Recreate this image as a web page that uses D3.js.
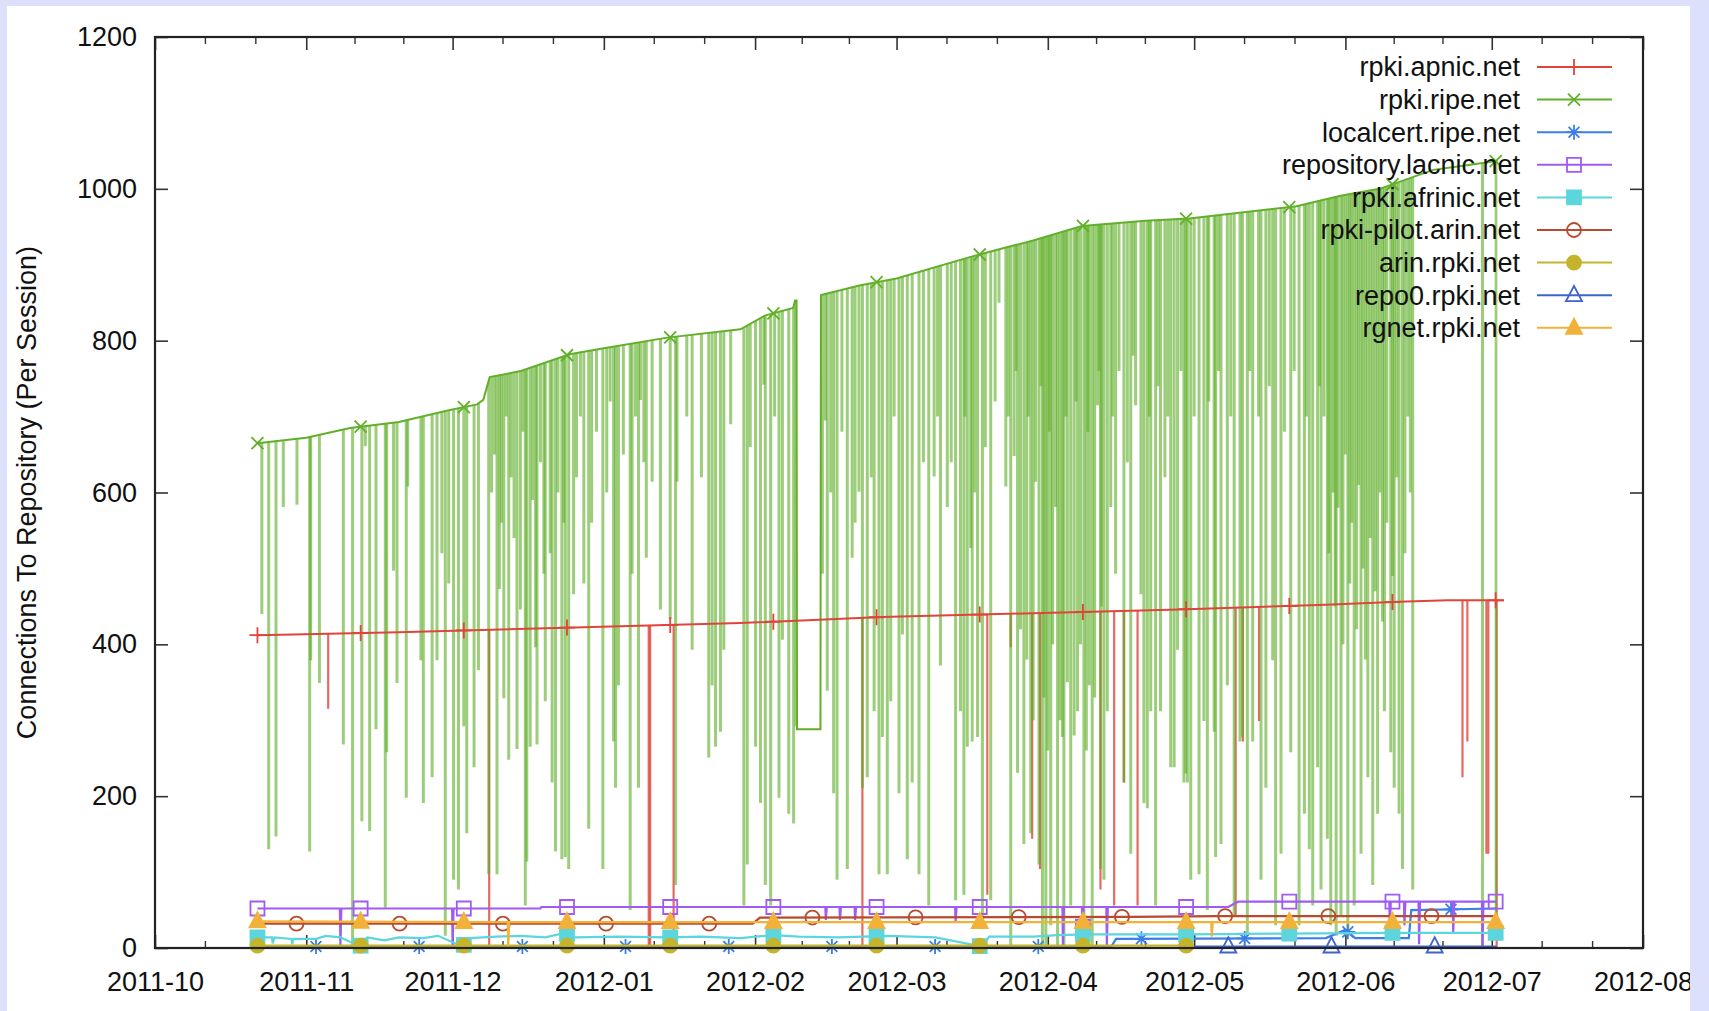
<!DOCTYPE html>
<html><head><meta charset="utf-8">
<script src="https://cdn.jsdelivr.net/npm/d3@7"></script>
<style>
html,body{margin:0;padding:0;background:#dde0fb;overflow:hidden;}
svg{display:block;}
text{font-family:"Liberation Sans",Arial,Helvetica,sans-serif;fill:#111;}
</style></head><body>
<svg id="chart" width="1709" height="1011"></svg>
<script>
// ---------- DATA (x = days since 2011-10-01, y = connections per session) ----------
const xTickLabels = ["2011-10","2011-11","2011-12","2012-01","2012-02","2012-03","2012-04","2012-05","2012-06","2012-07","2012-08"];
const yTickValues = [0,200,400,600,800,1000,1200];
const yLabel = "Connections To Repository (Per Session)";
const seriesNames = ["rpki.apnic.net","rpki.ripe.net","localcert.ripe.net","repository.lacnic.net","rpki.afrinic.net","rpki-pilot.arin.net","arin.rpki.net","repo0.rpki.net","rgnet.rpki.net"];

// rpki.apnic.net : main level and short drops
const apnicLine = [[21,412],[50,416],[84,422],[120,428],[149,436],[180,441],[210,446],[240,452],[255,456],[265,458],[276.5,458]];
const apnicDips = [[35.5,315],[68.5,0],[101.2,0],[101.5,0],[106.3,0],[145,0],[170.6,70],[175.4,396],[179.8,144],[181.4,104],[193.8,77],[196.6,56],[198.6,218],[201.4,56],[221.5,43],[223,272],[226.3,299],[268,225],[269,272],[272.9,124],[273.3,124],[275,0]];

// rpki.ripe.net : upper level and the many short drops
const ripeLine = [[21,665],[31,672],[40,685],[50,693],[60,708],[66,716],[67.3,722],[68.6,752],[75,760],[85,782],[92,790],[105,804],[120,815],[125,833],[130.8,843],[131.2,853],[131.5,853],[131.6,288],[136.4,288],[136.5,860],[144.6,873],[152,882],[167,910],[174,922],[180,932],[190,951],[203,958],[212,961],[234,977],[243,991],[251,1000],[262,1025],[270,1032],[275.2,1037]];
const ripeDips = [
 [21.9,440],[23.3,130],[24.8,147],[26.3,581],[29.1,584],[31.7,127],[31.9,379],[33.7,349],[38.6,268],[40.5,3],[42.4,167],[43.1,661],[44.0,154],[45.3,288],[47.2,53],[47.5,258],[48.9,497],[49.6,349],[51.5,198],[51.8,608],[54.5,379],[55.0,191],[56.8,225],[57.8,379],[58.8,520],[59.5,16],[60.2,480],[61.2,90],[62.2,77],[63.3,292],[63.9,151],[65.4,238],[66.3,366],[68.4,97],[70.1,97],[70.6,473],[71.5,329],[72.5,248],[74.2,262],[74.9,446],[75.9,56],[76.2,114],[76.9,265],[78.0,396],[78.3,268],[79.7,493],[80.0,325],[81.4,218],[82.1,127],[83.4,117],[84.1,120],[84.8,104],
 [69.0,600],[69.6,650],[71.0,560],[72.0,700],[73.0,620],[73.6,540],[75.4,680],[77.4,590],[79.0,640],[81.0,520],[82.6,600],[83.8,560],
 [85.8,466],[87.9,480],[88.9,157],[91.8,104],[94.0,272],[94.4,211],[95.0,346],[97.4,50],[97.8,493],[99.1,211],[99.5,722],[100.7,514],[101.9,614],[103.6,446],[105.6,433],[106.7,83],[107.0,614],[110.1,393],[113.5,251],[114.2,346],[114.9,265],[115.9,285],[116.6,393],[120.7,56],[121.4,110],[123.1,265],[124.1,191],[124.8,742],[125.1,83],[126.2,56],[127.9,198],[128.6,406],[129.9,177],[130.9,164],[131.4,292],[136.8,493],[137.4,695],[137.8,339],[139.1,204],[139.8,90],[141.9,104],[142.9,514],[144.3,601],[145.0,211],[146.0,225],[147.4,312],[148.4,97],
 [86.4,620],[87.2,700],[89.5,560],[90.5,680],[92.6,600],[93.3,720],[96.0,650],[98.5,700],[100.2,640],[109.0,700],[112.0,620],[118.0,690],[122.0,660],[127.0,700],
 [138.5,600],[140.8,680],[143.5,560],[146.8,620],[151.5,700],[157.5,640],
 [149.1,278],[150.1,97],[150.8,325],[152.5,204],[153.2,413],[154.2,117],[155.2,218],[156.6,97],[158.6,56],[159.7,621],[161.0,372],[162.4,581],[164.1,63],[165.1,312],[165.8,70],[166.5,265],[167.2,527],[167.5,272],[168.6,278],[169.6,30],[171.3,63],[173.0,850],[174.4,608],[175.4,3],[176.1,648],[176.8,231],[177.4,420],[178.1,137],[178.7,380],[179.5,151],[180.0,300],[180.5,614],[181.2,110],[181.9,3],[182.2,330],[182.6,3],[183.0,260],[183.6,30],[184.0,400],[184.6,581],[185.0,3],[185.5,300],[186.0,278],[186.3,3],[187.0,350],[187.7,56],[188.4,280],[189.1,312],[189.7,400],[190.4,3],[190.9,260],[191.5,346],[192.1,3],[192.6,330],[193.2,715],[193.8,104],[194.0,450],[194.5,90],[195.2,312],[195.9,581],[196.9,493],[198.6,218],[200.0,124],[201.0,715],[202.1,466],[202.7,191],[203.4,184],[204.1,312],[205.1,56],[206.1,312],[208.2,238],[208.9,238],[209.6,393],[210.9,218],[211.3,230],[211.6,218],
 [160.4,700],[163.2,640],[166.0,700],[168.0,600],[170.2,660],[172.2,720],[174.9,700],[176.5,760],[179.0,700],[181.6,740],[183.3,680],[186.7,700],[188.8,720],[191.2,680],[193.5,760],[196.3,700],[197.6,760],[199.3,640],[200.5,780],[203.8,700],[205.6,740],[207.0,620],[207.6,700],[210.3,760],
 [212.3,90],[214.0,97],[215.0,299],[215.7,50],[217.1,285],[217.4,120],[218.5,137],[219.8,346],[221.2,43],[222.4,272],[222.9,278],[223.9,16],[225.0,272],[226.7,90],[227.7,211],[229.1,379],[229.7,30],[230.8,124],[232.8,258],[234.5,30],[235.6,177],[236.6,130],[237.3,56],[238.3,238],[239.0,77],[240.3,144],[240.6,520],[241.0,30],[241.5,600],[241.9,450],[242.1,16],[242.5,580],[243.1,43],[243.5,400],[244.0,650],[244.5,16],[244.9,480],[245.3,560],[245.8,56],[246.3,420],[246.7,610],[247.2,124],[247.6,500],[248.1,380],[248.6,225],[249.1,540],[249.6,83],[250.1,470],[250.6,177],[251.1,600],[251.6,430],[252.0,312],[252.5,560],[253.3,258],[253.7,490],[254.0,211],[254.5,620],[255.0,177],[255.7,104],[256.2,520],[256.8,700],[257.3,600],[257.8,77],[272.1,3],[274.9,20],
 [213.0,700],[216.0,720],[218.0,760],[220.5,700],[224.4,760],[226.2,700],[228.4,740],[231.5,680],[233.5,760],[236.0,700],[238.7,740],[239.6,700]
];

const localcertData = [[21,2],[196,2],[197,12],[240,13],[244,24],[246,13],[257,13],[257.5,50],[275,52]];
const lacnicData = [[21,52],[37.9,52],[38,2],[38.2,52],[60.9,52],[61,2],[61.2,52],[79,52],[79.2,54],[137.4,54],[137.5,37],[137.7,54],[140.3,54],[140.4,37],[140.6,54],[143.4,54],[143.5,37],[143.7,54],[164,54],[164.1,35],[164.3,54],[186,54],[186.1,2],[186.3,54],[190,54],[190.1,2],[190.3,54],[195,54],[195.1,2],[195.3,54],[220,54],[222,61],[253,61],[253.1,30],[253.3,61],[256,61],[256.1,30],[256.3,61],[259,61],[259.1,5],[259.3,61],[266,61],[266.1,20],[266.3,61],[272,61],[272.1,2],[272.3,61],[275,61]];
const afrinicData = [[21,14],[24,14],[24.1,6],[24.5,14],[28,12],[28.1,5],[28.4,12],[33,12],[35,16],[38,14],[42,2],[43.5,14],[47,10],[50,14],[55,13],[58,16],[63,2],[64.5,13],[70,15],[75,16],[80,14],[84,20],[86,14],[95,15],[105,14],[112,15],[120,13],[126.7,17],[132,15],[140,14],[150,16],[160,14],[169.5,2],[171,15],[180,15],[185,17],[191,18],[212,18],[232,19],[253,20],[275,20]];
const pilotArinData = [[21,32],[122.5,32],[124,40],[200,41],[218,42],[275,42]];
const arinRpkiData = [[21,3],[212,3]];
const repo0Data = [[213,2],[275,2]];
const rgnetData = [[21,35],[72.3,34],[72.4,2],[72.6,34],[100,34],[216.5,34],[216.6,15],[216.8,34],[275,34]];

// marker spacing along each series (days)
const markerEvery = 21.15;

// ---------- STYLES ----------
const styles = [
 {color:"#e0443a", marker:"plus",     filled:false, mStart:21},
 {color:"#62b02a", marker:"cross",    filled:false, mStart:21},
 {color:"#3b7fe6", marker:"star",     filled:false, mStart:33},
 {color:"#a05cf2", marker:"square",   filled:false, mStart:21},
 {color:"#5cd6dc", marker:"square",   filled:true,  mStart:21},
 {color:"#b84a30", marker:"circle",   filled:false, mStart:29},
 {color:"#c4b42c", marker:"circle",   filled:true,  mStart:21},
 {color:"#3f63cf", marker:"triangle", filled:false, mStart:220},
 {color:"#f2b23a", marker:"triangle", filled:true,  mStart:21}
];
const seriesData = [apnicLine, ripeLine, localcertData, lacnicData, afrinicData, pilotArinData, arinRpkiData, repo0Data, rgnetData];

// ---------- LAYOUT ----------
const L = 155, R = 1643, T = 37, B = 948;
const DAY = 864e5;
const t0 = Date.UTC(2011, 9, 1);
const dayToDate = d => new Date(t0 + d * DAY);
const monthDates = xTickLabels.map(s => { const [yy, mm] = s.split("-").map(Number); return new Date(Date.UTC(yy, mm - 1, 1)); });

const x = d3.scaleUtc().domain([monthDates[0], monthDates[monthDates.length - 1]]).range([L, R]);
const y = d3.scaleLinear().domain([0, 1200]).range([B, T]);
const px = d => x(dayToDate(d[0]));
const py = d => y(d[1]);

const svg = d3.select("#chart");
const defs = svg.append("defs");
defs.append("clipPath").attr("id","panel").append("rect").attr("x",7).attr("y",6).attr("width",1683).attr("height",1005);
svg.append("rect").attr("x",7).attr("y",6).attr("width",1683).attr("height",1005).attr("fill","#fff");
const root = svg.append("g").attr("clip-path","url(#panel)");

// ---------- AXES ----------
const tickColor = "#333";
const fontFam = "Liberation Sans, Arial, sans-serif";
const gx = root.append("g").attr("transform",`translate(0,${B})`)
  .call(d3.axisBottom(x).tickValues(monthDates).tickFormat(d3.utcFormat("%Y-%m")).tickSize(-13).tickPadding(24));
gx.selectAll("text").attr("font-size",27).attr("font-family",fontFam).attr("fill","#111");
const gxt = root.append("g").attr("transform",`translate(0,${T})`)
  .call(d3.axisTop(x).tickValues(monthDates).tickFormat("").tickSize(-13));
const gy = root.append("g").attr("transform",`translate(${L},0)`)
  .call(d3.axisLeft(y).tickValues(yTickValues).tickFormat(d3.format("d")).tickSize(-13).tickPadding(18));
gy.selectAll("text").attr("font-size",27).attr("font-family",fontFam).attr("fill","#111");
const gyr = root.append("g").attr("transform",`translate(${R},0)`)
  .call(d3.axisRight(y).tickValues(yTickValues).tickFormat("").tickSize(-13));
[gx,gxt,gy,gyr].forEach(g => { g.select(".domain").remove(); g.selectAll("line").attr("stroke",tickColor).attr("stroke-width",1.6); });

// minor x ticks (thirds of each month)
const minor = [];
for (let i = 0; i < monthDates.length - 1; i++) {
  const a = monthDates[i].getTime(), b = monthDates[i+1].getTime();
  minor.push(new Date(a + (b - a) / 3), new Date(a + 2 * (b - a) / 3));
}
root.append("g").selectAll("line").data(minor).join("line")
  .attr("x1",d=>x(d)).attr("x2",d=>x(d)).attr("y1",B).attr("y2",B-7).attr("stroke",tickColor).attr("stroke-width",1.4);
root.append("g").selectAll("line").data(minor).join("line")
  .attr("x1",d=>x(d)).attr("x2",d=>x(d)).attr("y1",T).attr("y2",T+7).attr("stroke",tickColor).attr("stroke-width",1.4);

// y label
root.append("text").attr("transform",`translate(36,${(T+B)/2}) rotate(-90)`)
  .attr("text-anchor","middle").attr("font-size",27).text(yLabel);

// ---------- DATA DRAWING ----------
const plot = root.append("g");
const line = d3.line().x(px).y(py);
const underArea = d3.area().x(px).y0(B + 4).y1(py);

function markerPath(type, r) {
  switch (type) {
    case "plus": return `M${-r},0H${r}M0,${-r}V${r}`;
    case "cross": return `M${-r},${-r}L${r},${r}M${-r},${r}L${r},${-r}`;
    case "star": { const c = r * 0.72; return `M${-r},0H${r}M0,${-r}V${r}M${-c},${-c}L${c},${c}M${-c},${c}L${c},${-c}`; }
    case "square": return `M${-r},${-r}H${r}V${r}H${-r}Z`;
    case "circle": return `M${r},0A${r},${r} 0 1,1 ${-r},0A${r},${r} 0 1,1 ${r},0Z`;
    case "triangle": return `M0,${-r*1.15}L${r},${r*0.75}L${-r},${r*0.75}Z`;
  }
}
const markerSize = {plus:8, cross:6, star:7.5, square:7, circle:7, triangle:8};

// where the drawn polyline is at a given day (used only to sit markers on their line)
function lineYAt(data, day) {
  const i = d3.bisector(d => d[0]).right(data, day);
  if (i <= 0) return data[0][1];
  if (i >= data.length) return data[data.length - 1][1];
  const a = data[i - 1], b = data[i];
  const f = (day - a[0]) / (b[0] - a[0]);
  return a[1] + f * (b[1] - a[1]);
}
function markerDays(data, start) {
  const out = [];
  const last = data[data.length - 1][0];
  for (let d = start; d <= last + 0.3; d += markerEvery) if (d >= data[0][0]) out.push([d, lineYAt(data, d)]);
  return out;
}
function drawMarkers(g, pts, st) {
  g.append("g").selectAll("path").data(pts).join("path")
    .attr("transform", d => `translate(${px(d)},${py(d)})`)
    .attr("d", markerPath(st.marker, markerSize[st.marker]))
    .attr("fill", st.filled ? st.color : "none")
    .attr("stroke", st.color).attr("stroke-width", 1.8);
}

// clip regions beneath the apnic and ripe levels, for their drops
defs.append("clipPath").attr("id","apnicClip").append("path").attr("d", underArea(apnicLine));
defs.append("clipPath").attr("id","ripeClip").append("path").attr("d", underArea(ripeLine));

// apnic drops
plot.append("g").attr("clip-path","url(#apnicClip)").selectAll("line").data(apnicDips).join("line")
  .attr("x1",px).attr("x2",px).attr("y1",py).attr("y2",y(1200))
  .attr("stroke",styles[0].color).attr("stroke-opacity",0.8).attr("stroke-width",2.2);
// ripe drops
plot.append("g").attr("clip-path","url(#ripeClip)").selectAll("line").data(ripeDips).join("line")
  .attr("x1",px).attr("x2",px).attr("y1",py).attr("y2",y(1200))
  .attr("stroke","#5fae28").attr("stroke-opacity",0.62).attr("stroke-width",3);
// ripe level
plot.append("path").datum(ripeLine).attr("d",line).attr("fill","none").attr("stroke",styles[1].color).attr("stroke-width",2);
// apnic level
plot.append("path").datum(apnicLine).attr("d",line).attr("fill","none").attr("stroke",styles[0].color).attr("stroke-width",2);
drawMarkers(plot, markerDays(apnicLine, styles[0].mStart), styles[0]);
drawMarkers(plot, markerDays(ripeLine, styles[1].mStart), styles[1]);

// lower series
for (let i = 2; i < seriesData.length; i++) {
  const st = styles[i];
  plot.append("path").datum(seriesData[i]).attr("d",line).attr("fill","none").attr("stroke",st.color).attr("stroke-width",2.2);
  drawMarkers(plot, markerDays(seriesData[i], st.mStart), st);
}

// frame
root.append("rect").attr("x",L).attr("y",T).attr("width",R-L).attr("height",B-T)
  .attr("fill","none").attr("stroke","#222").attr("stroke-width",2.2);

// ---------- LEGEND ----------
const leg = root.append("g");
seriesNames.forEach((name, i) => {
  const cy = 67 + i * 32.6;
  const st = styles[i];
  leg.append("text").attr("x",1520).attr("y",cy).attr("dy","0.35em").attr("text-anchor","end").attr("font-size",27).text(name);
  leg.append("line").attr("x1",1537).attr("x2",1612).attr("y1",cy).attr("y2",cy).attr("stroke",st.color).attr("stroke-width",2);
  leg.append("path").attr("transform",`translate(1574,${cy})`).attr("d",markerPath(st.marker, markerSize[st.marker]))
    .attr("fill", st.filled ? st.color : "none").attr("stroke", st.color).attr("stroke-width",1.8);
});
</script>
</body></html>
